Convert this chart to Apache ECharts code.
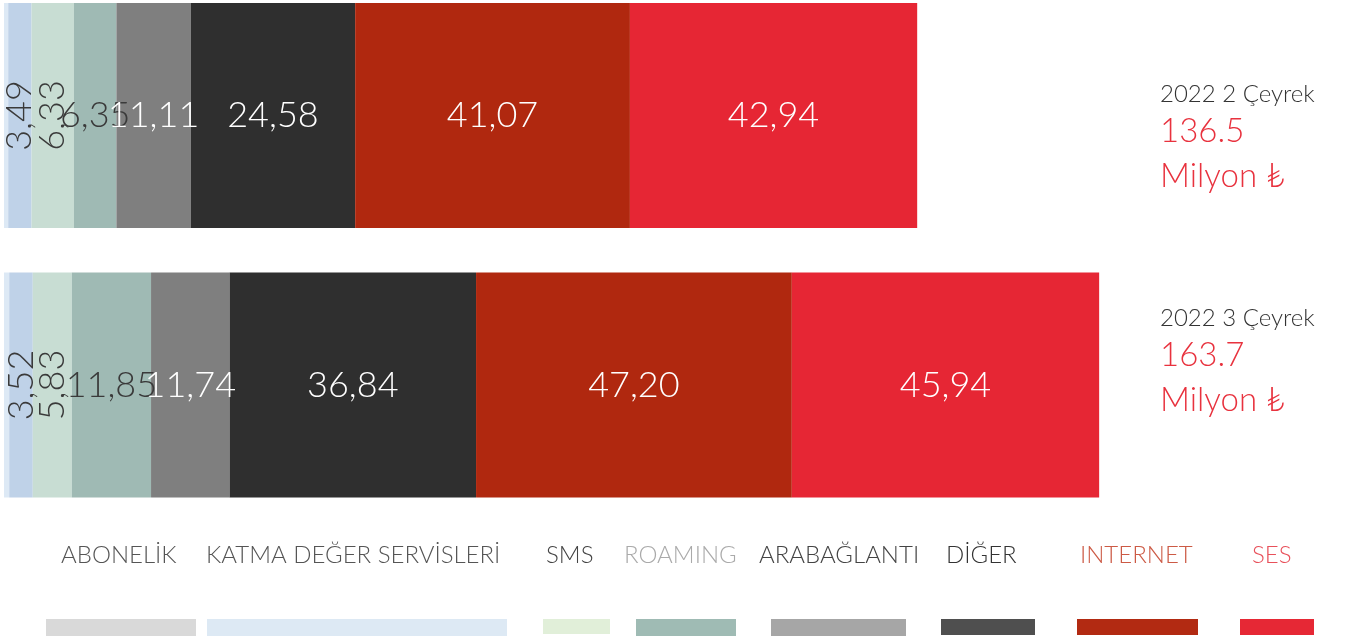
<!DOCTYPE html>
<html><head><meta charset="utf-8">
<script src="https://cdn.jsdelivr.net/npm/echarts@6/dist/echarts.min.js"></script>
<style>html,body{margin:0;padding:0;background:#fff}#c{width:1348px;height:636px}</style>
</head><body><div id="c"></div>
<script>
// ---- data ----
const categories = ['2022 2 Çeyrek', '2022 3 Çeyrek'];
const seriesNames = ['ABONELİK', 'KATMA DEĞER SERVİSLERİ', 'SMS', 'ROAMING', 'ARABAĞLANTI', 'DİĞER', 'INTERNET', 'SES'];
const q2Values = [0.63, 3.49, 6.33, 6.35, 11.11, 24.58, 41.07, 42.94];
const q3Values = [0.78, 3.52, 5.83, 11.85, 11.74, 36.84, 47.20, 45.94];
const totals = ['136.5', '163.7'];
const unitText = 'Milyon ₺';

// ---- styles ----
const FONT = 'Lato, "Open Sans", sans-serif';
const barColors = ['#dde9f5', '#bfd2e8', '#c8ddd3', '#9fbab4', '#7f7f7f', '#2f2f2f', '#b0280f', '#e62634'];
const labelColors = ['#333', '#3a3a3a', '#3a3a3a', '#3a3a3a', '#ffffff', '#ffffff', '#ffffff', '#ffffff'];
const labelRotate = [0, 90, 90, 0, 0, 0, 0, 0];
const legendSwatchColors = ['#d9d9d9', '#dde9f4', '#e1efd9', '#9fbbb4', '#a6a6a6', '#4f4f4f', '#b22a12', '#e62835'];
const legendTextColors = ['#555555', '#555555', '#444444', '#aaaaaa', '#444444', '#333333', '#cc5a45', '#e8505a'];
// ---- layout ----
const legendTextX = [61, 206, 546, 624, 759, 946, 1080, 1252];
const legendSwatchBox = [[46, 150, 17], [207, 300, 17], [543, 67, 15], [636, 100, 17], [771, 135, 17], [941, 94, 16], [1077, 121, 16], [1240, 74, 16]];
const sideTextY = [[95, 133, 178], [319, 357, 402]];

const fmt = v => v.toFixed(2).replace('.', ',');

const series = seriesNames.map((name, i) => ({
  name: name,
  type: 'bar',
  stack: 'total',
  barWidth: 225,
  data: [q2Values[i], q3Values[i]],
  itemStyle: { color: barColors[i] },
  label: {
    show: i > 0,
    position: 'inside',
    rotate: labelRotate[i],
    formatter: p => fmt(p.value),
    color: labelColors[i],
    fontFamily: FONT,
    fontWeight: 300,
    fontSize: 36
  },
  emphasis: { disabled: true }
}));

const graphics = [];
categories.forEach((c, k) => {
  graphics.push({ type: 'text', left: 1160, top: sideTextY[k][0] - 13,
    style: { text: c, fill: '#333333', font: '300 24px ' + FONT } });
  graphics.push({ type: 'text', left: 1160, top: sideTextY[k][1] - 18,
    style: { text: totals[k], fill: '#e8323e', font: '300 33px ' + FONT } });
  graphics.push({ type: 'text', left: 1160, top: sideTextY[k][2] - 18,
    style: { text: unitText, fill: '#e8323e', font: '300 33px ' + FONT } });
});
seriesNames.forEach((n, i) => {
  graphics.push({ type: 'text', left: legendTextX[i], top: 543,
    style: { text: n, fill: legendTextColors[i], font: '300 24px ' + FONT } });
  const b = legendSwatchBox[i];
  graphics.push({ type: 'rect', shape: { x: b[0], y: 619, width: b[1], height: b[2] },
    style: { fill: legendSwatchColors[i] } });
});

const chart = echarts.init(document.getElementById('c'), null, { renderer: 'canvas' });
chart.setOption({
  animation: false,
  backgroundColor: '#ffffff',
  grid: { left: 4, right: 6, top: 115.5, bottom: 251, containLabel: false },
  xAxis: { type: 'value', min: 0, max: 200, show: false },
  yAxis: { type: 'category', data: categories, inverse: true, show: false, boundaryGap: false },
  series: series,
  graphic: graphics
});
</script></body></html>
